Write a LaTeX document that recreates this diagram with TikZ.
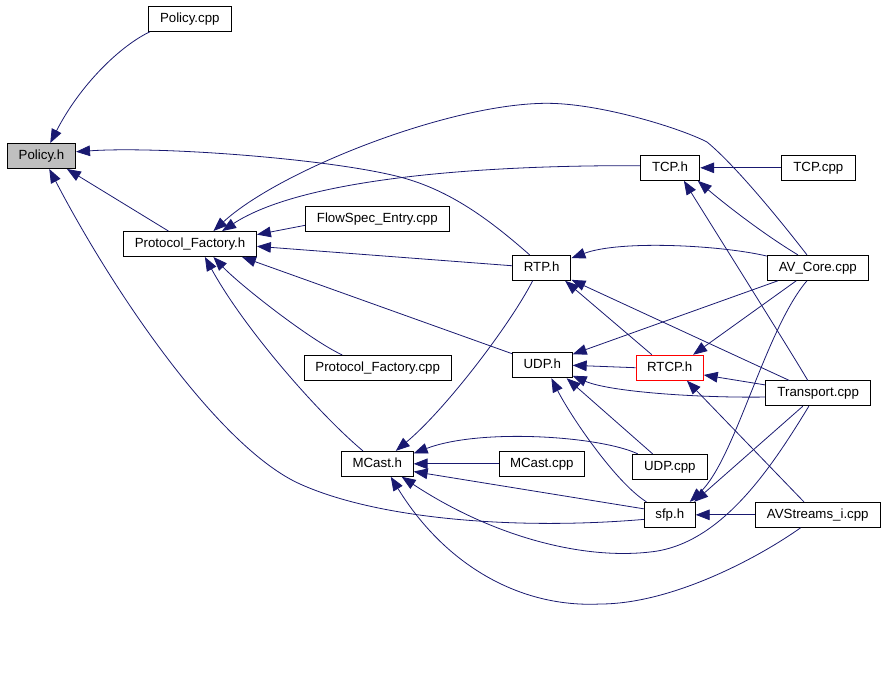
\documentclass[tikz,border=0pt]{standalone}
\usepackage{fontspec}
\setmainfont{Liberation Sans}
\usepackage{tikz}
\usetikzlibrary{arrows.meta,shapes,positioning}
\definecolor{edgeblue}{RGB}{25,25,112}
\definecolor{curgray}{RGB}{191,191,191}

\begin{document}
\begin{tikzpicture}[scale=0.26458]
			\tikzstyle{every node}+=[inner sep=0pt]
			\tikzstyle{filebox}=[draw=black, line width=0.75pt, fill=white, minimum height=18.75pt, text height=7.2pt, text depth=2.1pt, font=\fontsize{10pt}{12pt}\selectfont]
			\tikzstyle{dep}=[draw=edgeblue, line width=0.6pt, -{Triangle[length=10.5pt,width=8pt]}]
			\useasboundingbox (0,0) rectangle (88.5,-68.3);
			\node [filebox, minimum width=62.25pt] (policycpp) at (18.98,-1.88) {Policy.cpp};
			\node [filebox, minimum width=51.3pt, fill=curgray] (policyh) at (4.15,-15.6) {Policy.h};
			\node [filebox, minimum width=100pt] (protfach) at (19.0,-24.4) {Protocol\_Factory.h};
			\node [filebox, minimum width=108pt] (flowspec) at (37.73,-21.9) {FlowSpec\_Entry.cpp};
			\node [filebox, minimum width=44.8pt] (tcph) at (67.0,-16.78) {TCP.h};
			\node [filebox, minimum width=55.5pt] (tcpcpp) at (81.83,-16.78) {TCP.cpp};
			\node [filebox, minimum width=44pt] (rtph) at (54.17,-26.78) {RTP.h};
			\node [filebox, minimum width=75.75pt] (avcore) at (81.78,-26.78) {AV\_Core.cpp};
			\node [filebox, minimum width=45pt] (udph) at (54.23,-36.53) {UDP.h};
			\node [filebox, minimum width=50.5pt, draw=red] (rtcph) at (66.97,-36.77) {RTCP.h};
			\node [filebox, minimum width=79.3pt] (transport) at (81.82,-39.33) {Transport.cpp};
			\node [filebox, minimum width=110.5pt] (protfaccpp) at (37.77,-36.78) {Protocol\_Factory.cpp};
			\node [filebox, minimum width=54pt] (mcasth) at (37.73,-46.38) {MCast.h};
			\node [filebox, minimum width=63.75pt] (mcastcpp) at (54.18,-46.38) {MCast.cpp};
			\node [filebox, minimum width=56.25pt] (udpcpp) at (66.98,-46.68) {UDP.cpp};
			\node [filebox, minimum width=38.25pt] (sfph) at (66.98,-51.48) {sfp.h};
			\node [filebox, minimum width=93.75pt] (avstreams) at (81.78,-51.48) {AVStreams\_i.cpp};
			\draw [dep] (policycpp.-162) .. controls (12.0,-4.6) and (8.0,-8.5) .. (policyh.56);
			\draw [dep] (protfach.149.6) -- (policyh.-27);
			\draw [dep] (rtph.133) .. controls (49,-22) and (45,-19) .. (40,-17.7) .. controls (33,-15.88) and (16,-14.6) .. (policyh.7);
			\draw [dep] (sfph.-170.6) .. controls (52,-53) and (38,-52) .. (30,-48.4) .. controls (22,-44.8) and (11.5,-29.5) .. (policyh.-59);
			\draw [dep] (flowspec.-175.2) -- (protfach.8.5);
			\draw [dep] (rtph.176.5) -- (protfach.-2.3);
			\draw [dep] (udph.159) -- (protfach.-14);
			\draw [dep] (protfaccpp.160.7) .. controls (31,-34) and (24,-28.5) .. (protfach.-29.4);
			\draw [dep] (mcasth.138.8) .. controls (32,-41.5) and (24.5,-33) .. (protfach.-41.4);
			\draw [dep] (tcph.176.5) .. controls (47,-16.5) and (30,-18) .. (protfach.22.5);
			\draw [dep] (avcore.130.8) .. controls (78,-22) and (73.5,-16.5) .. (70.7,-14.2) .. controls (68,-12.8) and (60,-10.33) .. (54.7,-10.33) .. controls (45,-10.33) and (28,-17) .. (protfach.29.4);
			\draw [dep] (tcpcpp.west) -- (tcph.east);
			\draw [dep] (avcore.147.7) .. controls (76,-23.2) and (72,-20) .. (tcph.-25.7);
			\draw [dep] (transport.129.2) .. controls (79,-35) and (70.5,-21.5) .. (tcph.-43.9);
			\draw [dep] (avcore.167.9) .. controls (72,-24.5) and (62,-24) .. (rtph.18.5);
			\draw [dep] (rtcph.144.8) -- (rtph.-29.3);
			\draw [dep] (transport.156.1) -- (rtph.-22);
			\draw [dep] (avcore.-162.6) -- (udph.20.6);
			\draw [dep] (avcore.-149) -- (rtcph.29.3);
			\draw [dep] (rtcph.west) -- (udph.east);
			\draw [dep] (transport.171.1) -- (rtcph.-12.2);
			\draw [dep] (transport.-176) .. controls (70,-39.8) and (61,-39.2) .. (udph.-19.6);
			\draw [dep] (avstreams.137.8) -- (rtcph.-37.5);
			\draw [dep] (udpcpp.143.4) -- (udph.-28.8);
			\draw [dep] (sfph.151.3) .. controls (61.5,-48.2) and (57,-41.5) .. (udph.-55.2);
			\draw [dep] (udpcpp.158.5) .. controls (60,-43.6) and (48,-42.8) .. (mcasth.16.7);
			\draw [dep] (mcastcpp.west) -- (mcasth.east);
			\draw [dep] (sfph.167.2) -- (mcasth.-12.8);
			\draw [dep] (transport.-140.6) -- (sfph.28);
			\draw [dep] (avcore.-130.8) .. controls (76.5,-33) and (73.5,-46) .. (sfph.33);
			\draw [dep] (avstreams.west) -- (sfph.east);
			\draw [dep] (transport.-126.4) .. controls (77,-47) and (72,-54.5) .. (65,-55.2) .. controls (58,-56) and (49,-53.5) .. (mcasth.-28.8);
			\draw [dep] (avstreams.-143.4) .. controls (75.5,-56) and (67,-60.4) .. (60,-60.4) .. controls (52,-60.8) and (44.5,-56.5) .. (mcasth.-44.5);
			\draw [dep] (rtph.-125.8) .. controls (51,-32.5) and (44.5,-41) .. (mcasth.35.2);
\end{tikzpicture}
\end{document}
